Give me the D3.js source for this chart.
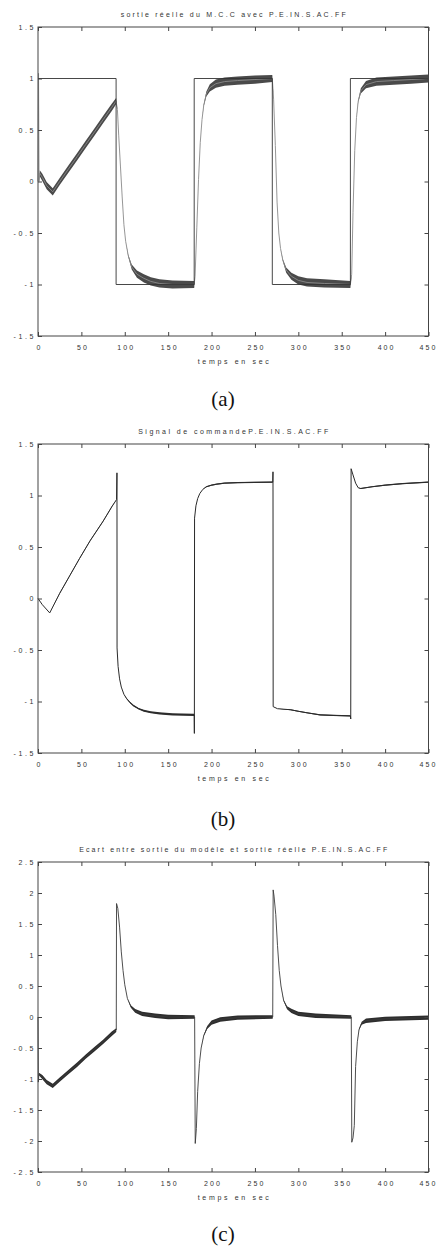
<!DOCTYPE html>
<html>
<head>
<meta charset="utf-8">
<script src="https://cdn.jsdelivr.net/npm/d3@7"></script>
<style>
  html, body { margin: 0; padding: 0; background: #fff; }
  svg { display: block; }
</style>
</head>
<body>
<svg id="chart" width="438" height="1250"></svg>
<script>
// ---------- shared axis data ----------
const xTicks = [0, 50, 100, 150, 200, 250, 300, 350, 400, 450];
const yTicksAB = [-1.5, -1, -0.5, 0, 0.5, 1, 1.5];
const yTicksC = [-2.5, -2, -1.5, -1, -0.5, 0, 0.5, 1, 1.5, 2, 2.5];

// ---------- panel (a): reference square wave + real output ----------
const titleA = "sortie réelle du M.C.C avec P.E.IN.S.AC.FF";
const refTimeA = [0, 90, 90, 180, 180, 270, 270, 360, 360, 450];
const refValA  = [1, 1, -1, -1, 1, 1, -1, -1, 1, 1];
const timeA = [0, 0.6, 1.2, 2, 5, 10, 17, 25, 35, 45, 55, 65, 75, 85, 90, 91.5, 93, 95, 97, 99, 101, 104, 108, 114, 122, 130, 140, 155, 180,
               181, 183, 185, 187, 189, 191, 194, 198, 205, 215, 230, 250, 270,
               271.5, 273.5, 275.5, 277.5, 279.5, 282, 286, 292, 300, 310, 330, 360,
               361.5, 363, 365, 367, 369, 372, 378, 390, 410, 430, 450];
const outA  = [0, 1.05, 0, 0.08, 0.04, -0.04, -0.1, 0, 0.12, 0.24, 0.36, 0.48, 0.6, 0.72, 0.78, 0.7, 0.45, 0.15, -0.15, -0.42, -0.58, -0.72, -0.83, -0.9, -0.94, -0.97, -0.99, -1.0, -1.0,
               -0.92, -0.45, 0.02, 0.38, 0.6, 0.74, 0.85, 0.91, 0.95, 0.97, 0.98, 0.99, 1.0,
               0.8, 0.35, -0.2, -0.5, -0.65, -0.76, -0.86, -0.92, -0.96, -0.98, -0.99, -1.0,
               -0.9, -0.3, 0.3, 0.62, 0.78, 0.88, 0.94, 0.97, 0.98, 0.99, 1.0];
const noiseA = [0, 0, 0, 0.03, 0.035, 0.035, 0.035, 0.035, 0.035, 0.035, 0.035, 0.035, 0.035, 0.035, 0.03, 0, 0, 0, 0, 0, 0, 0.01, 0.025, 0.035, 0.04, 0.04, 0.04, 0.04, 0.035,
               0, 0, 0, 0, 0, 0.01, 0.025, 0.035, 0.04, 0.04, 0.04, 0.04, 0.035,
               0, 0, 0, 0, 0, 0.01, 0.025, 0.035, 0.04, 0.04, 0.04, 0.035,
               0, 0, 0, 0, 0.01, 0.025, 0.035, 0.04, 0.04, 0.04, 0.04];

// ---------- panel (b): command signal ----------
const titleB = "Signal de commandeP.E.IN.S.AC.FF";
const timeB = [0, 5, 13.5, 25, 36.5, 48, 60, 75, 85, 90.5, 91, 91.1, 92.3, 94, 96, 99, 102, 106, 110, 116, 122, 130, 140, 155, 180,
               180.2, 180.4, 182, 184, 186.5, 190, 194, 200, 206, 215, 230, 250, 270.5,
               270.8, 271, 276, 291, 300, 310, 325, 340, 360,
               360.4, 360.8, 363, 366, 369, 372, 385, 400, 420, 450];
const cmdB  = [0, -0.06, -0.14, 0.05, 0.22, 0.39, 0.56, 0.75, 0.89, 0.96, 1.22, -0.48, -0.66, -0.78, -0.86, -0.93, -0.97, -1.01, -1.04, -1.07, -1.09, -1.105, -1.115, -1.125, -1.13,
               -1.31, 0.78, 0.9, 0.97, 1.02, 1.06, 1.085, 1.1, 1.11, 1.12, 1.125, 1.128, 1.13,
               1.23, -1.05, -1.07, -1.08, -1.095, -1.11, -1.13, -1.135, -1.14,
               -1.17, 1.26, 1.2, 1.12, 1.075, 1.068, 1.085, 1.1, 1.115, 1.13];
const noiseB = [0, 0, 0, 0.005, 0.005, 0.005, 0.005, 0.005, 0.005, 0, 0, 0, 0, 0, 0, 0, 0.005, 0.008, 0.008, 0.008, 0.01, 0.01, 0.01, 0.01, 0.01,
               0, 0, 0, 0, 0, 0, 0.005, 0.006, 0.006, 0.006, 0.006, 0.006, 0.006,
               0, 0, 0, 0.005, 0.005, 0.005, 0.006, 0.006, 0.006,
               0, 0, 0, 0, 0, 0.005, 0.006, 0.006, 0.006, 0.006];

// ---------- panel (c): model output minus real output ----------
const titleC = "Ecart entre sortie du modèle et sortie réelle P.E.IN.S.AC.FF";
const timeC = [0, 0.4, 1, 5, 10, 17, 25, 35, 45, 55, 65, 75, 85, 90.2,
               90.5, 92, 94, 96, 98, 100, 103, 107, 112, 120, 135, 150, 180.5,
               181.2, 182.5, 184, 186, 188, 191, 195, 200, 210, 230, 270.5,
               271, 272, 274, 276, 278, 280, 283, 287, 292, 300, 320, 361,
               361.6, 363, 364.5, 366, 368, 370, 373, 378, 400, 450];
const errC  = [0, -1.05, -0.92, -0.97, -1.05, -1.11, -1.01, -0.89, -0.77, -0.64, -0.52, -0.4, -0.27, -0.21,
               1.83, 1.75, 1.45, 1.05, 0.75, 0.52, 0.3, 0.17, 0.1, 0.05, 0.02, 0, 0,
               -2.04, -1.8, -1.2, -0.75, -0.5, -0.3, -0.17, -0.09, -0.04, -0.01, 0,
               2.05, 1.95, 1.65, 1.15, 0.75, 0.5, 0.27, 0.15, 0.1, 0.05, 0.02, 0,
               -2.02, -1.95, -1.75, -0.8, -0.4, -0.2, -0.1, -0.06, -0.03, -0.01];
const noiseC = [0, 0, 0.02, 0.035, 0.035, 0.035, 0.035, 0.035, 0.035, 0.035, 0.035, 0.035, 0.035, 0.03,
               0, 0, 0, 0, 0, 0, 0, 0.02, 0.03, 0.035, 0.035, 0.035, 0.03,
               0, 0, 0, 0, 0, 0.01, 0.025, 0.035, 0.035, 0.035, 0.03,
               0, 0, 0, 0, 0, 0, 0.01, 0.025, 0.035, 0.035, 0.035, 0.03,
               0, 0, 0, 0, 0, 0.01, 0.025, 0.035, 0.035, 0.035];

const captions = ["(a)", "(b)", "(c)"];
const xLabel = "temps en sec";

// ---------- layout ----------
const svg = d3.select("#chart");
const left = 38, right = 428.5;
const x = d3.scaleLinear().domain([0, 450]).range([left, right]);

const panels = [
  { title: titleA, top: 27, bottom: 336, yDom: [-1.5, 1.5], yTicks: yTicksAB, caption: captions[0], capY: 406, titleLen: 225,
    series: [
      { t: timeA, v: outA, w: noiseA, line: "#8a8a8a", fill: "#4a4a4a", lw: 0.9 },
      { t: refTimeA, v: refValA, w: null, line: "#333", lw: 0.9 }
    ] },
  { title: titleB, top: 444, bottom: 753, yDom: [-1.5, 1.5], yTicks: yTicksAB, caption: captions[1], capY: 826, titleLen: 190,
    series: [
      { t: timeB, v: cmdB, w: noiseB, line: "#2a2a2a", fill: "#333", lw: 1.0 }
    ] },
  { title: titleC, top: 862, bottom: 1172, yDom: [-2.5, 2.5], yTicks: yTicksC, caption: captions[2], capY: 1241, titleLen: 308,
    series: [
      { t: timeC, v: errC, w: noiseC, line: "#3a3a3a", fill: "#2e2e2e", lw: 0.9 }
    ] }
];

const fmt = d => String(d);
const tickFont = "'Liberation Sans', Arial, sans-serif";

panels.forEach(p => {
  const y = d3.scaleLinear().domain(p.yDom).range([p.bottom, p.top]);
  const g = svg.append("g");

  // data marks
  p.series.forEach(s => {
    const pts = s.t.map((t, i) => ({ t, v: s.v[i], w: s.w ? s.w[i] : 0 }));
    if (s.w) {
      const area = d3.area().x(d => x(d.t)).y0(d => y(d.v - d.w)).y1(d => y(d.v + d.w));
      g.append("path").datum(pts).attr("d", area).attr("fill", s.fill).attr("stroke", "none");
    }
    const line = d3.line().x(d => x(d.t)).y(d => y(d.v));
    g.append("path").datum(pts).attr("d", line)
      .attr("fill", "none").attr("stroke", s.line).attr("stroke-width", s.lw);
  });

  // box
  g.append("rect").attr("x", left).attr("y", p.top)
    .attr("width", right - left).attr("height", p.bottom - p.top)
    .attr("fill", "none").attr("stroke", "#444").attr("stroke-width", 1);

  // axes with inside ticks
  const axB = g.append("g").attr("transform", `translate(0,${p.bottom})`)
    .call(d3.axisBottom(x).tickValues(xTicks).tickSize(-4).tickPadding(8).tickFormat(fmt));
  const axT = g.append("g").attr("transform", `translate(0,${p.top})`)
    .call(d3.axisTop(x).tickValues(xTicks).tickSize(-4).tickFormat(""));
  const axL = g.append("g").attr("transform", `translate(${left},0)`)
    .call(d3.axisLeft(y).tickValues(p.yTicks).tickSize(-4).tickPadding(4).tickFormat(fmt));
  const axR = g.append("g").attr("transform", `translate(${right},0)`)
    .call(d3.axisRight(y).tickValues(p.yTicks).tickSize(-4).tickFormat(""));
  [axB, axT, axL, axR].forEach(a => {
    a.select(".domain").remove();
    a.selectAll(".tick line").attr("stroke", "#444");
    a.selectAll("text").attr("font-family", tickFont).attr("font-size", 7)
      .attr("fill", "#333").style("letter-spacing", "2.6px");
  });
  axB.selectAll(".tick text").style("letter-spacing", "2.1px")
    .attr("dx", 1).attr("y", 9).attr("dy", "0.71em");
  axB.selectAll(".tick").filter(d => d === 450).select("text").attr("dx", -0.5);
  axL.selectAll(".tick text").attr("x", -2);

  // title
  g.append("text").attr("x", (left + right) / 2).attr("y", p.top - 10.5)
    .attr("text-anchor", "middle").attr("font-family", tickFont).attr("font-size", 7)
    .attr("fill", "#333").attr("textLength", p.titleLen).attr("lengthAdjust", "spacing")
    .text(p.title);

  // x label
  g.append("text").attr("x", (left + right) / 2).attr("y", p.bottom + 27.5)
    .attr("text-anchor", "middle").attr("font-family", tickFont).attr("font-size", 7)
    .attr("fill", "#333").attr("textLength", 71).attr("lengthAdjust", "spacing")
    .text(xLabel);

  // caption
  svg.append("text").attr("x", 223).attr("y", p.capY)
    .attr("text-anchor", "middle").attr("font-family", "'Liberation Serif', 'Times New Roman', serif")
    .attr("font-size", 21).attr("fill", "#111").text(p.caption);
});
</script>
</body>
</html>
